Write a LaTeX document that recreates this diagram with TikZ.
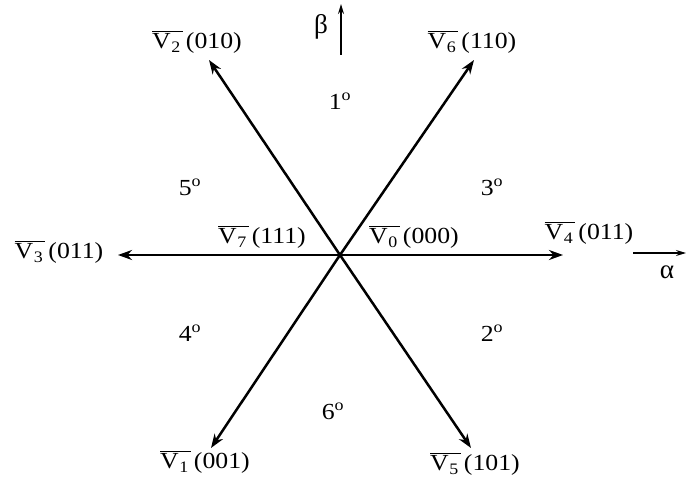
\documentclass[tikz,border=0pt]{standalone}
\usepackage{fontspec}
\setmainfont{Liberation Serif}
\usetikzlibrary{arrows.meta}
\newcommand{\vbar}[1]{$\overline{\hbox{V\kern0.5pt\lower4.5pt\hbox{\fontsize{16}{16}\selectfont #1}\kern2pt}}$\kern3pt}
\newcommand{\sect}[1]{#1\textsuperscript{o}}
\begin{document}
\begin{tikzpicture}[x=1pt,y=-1pt,
  vec/.style={line width=2.5pt,-{Stealth[length=14pt,width=10pt]}},
  ax/.style={line width=1.4pt,-{Stealth[length=10pt,width=6pt]}},
  lbl/.style={font=\fontsize{23}{25}\selectfont,inner sep=0pt,xscale=1.12,transform shape}]
\useasboundingbox (0,0) rectangle (686,484);
\coordinate (O) at (340,255);
\coordinate (t2) at (209,60);
\coordinate (t6) at (474,60);
\coordinate (t3) at (118,255);
\coordinate (t4) at (563,255);
\coordinate (t1) at (211,448);
\coordinate (t5) at (471,448);
\coordinate (b0) at (341,55);
\coordinate (b1) at (341,4);
\coordinate (a0) at (633,253);
\coordinate (a1) at (686,253);
\draw[vec] (O) -- (t2);
\draw[vec] (O) -- (t6);
\draw[vec] (O) -- (t3);
\draw[vec] (O) -- (t4);
\draw[vec] (O) -- (t1);
\draw[vec] (O) -- (t5);
\draw[ax] (b0) -- (b1);
\draw[ax] (a0) -- (a1);
\node[lbl] (l2) at (197,42) {\vbar{2}(010)};
\node[lbl] (l6) at (472,42) {\vbar{6}(110)};
\node[lbl] (l3) at (59,252) {\vbar{3}(011)};
\node[lbl] (l4) at (589,233) {\vbar{4}(011)};
\node[lbl] (l7) at (262,237) {\vbar{7}(111)};
\node[lbl] (l0) at (414,237) {\vbar{0}(000)};
\node[lbl] (l1) at (205,462) {\vbar{1}(001)};
\node[lbl] (l5) at (475,464) {\vbar{5}(101)};
\node[lbl,font=\fontsize{27}{28}\selectfont,xscale=0.9] (beta) at (321,27) {β};
\node[lbl,font=\fontsize{27}{28}\selectfont,xscale=0.9] (alpha) at (667,272) {α};
\node[lbl] (s1) at (340,101) {\sect{1}};
\node[lbl] (s5) at (190,187) {\sect{5}};
\node[lbl] (s3) at (492,187) {\sect{3}};
\node[lbl] (s4) at (190,333) {\sect{4}};
\node[lbl] (s2) at (492,333) {\sect{2}};
\node[lbl] (s6) at (333,411) {\sect{6}};
\end{tikzpicture}
\end{document}
